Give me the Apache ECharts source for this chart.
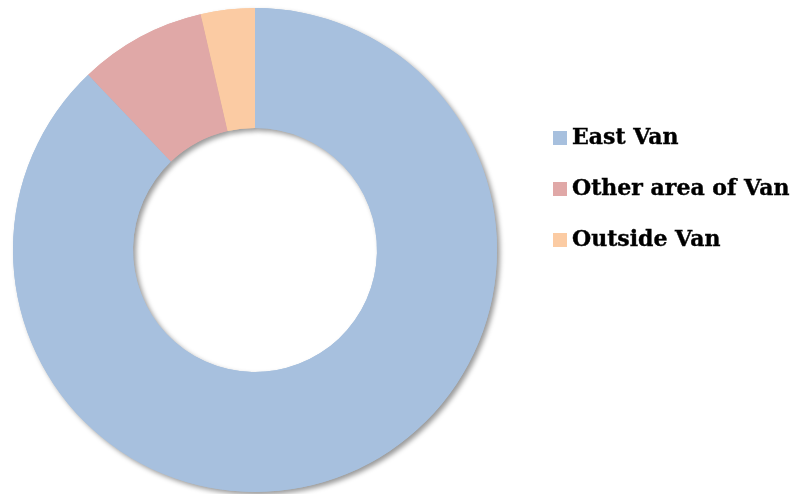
<!DOCTYPE html>
<html>
<head>
<meta charset="utf-8">
<script src="https://cdn.jsdelivr.net/npm/echarts@6/dist/echarts.min.js"></script>
<style>
  html, body { margin: 0; padding: 0; background: #fff; }
  #dom { width: 805px; height: 494px; }
</style>
</head>
<body>
<div id="dom"></div>
<script>
  // (share in %)
  var areas = ['East Van', 'Other area of Van', 'Outside Van']
  var shares = [87.9, 8.5, 3.6]
  var colors = ['#A7C0DE', '#E0A8A7', '#FBCBA3']

  var data = areas.map(function (name, i) {
    return { name: name, value: shares[i] }
  })

  var center = [255, 250]
  var radius = [122, 242]

  var option = {
    color: colors,
    animation: false,
    legend: {
      orient: 'vertical',
      left: 553,
      top: 126,
      padding: 0,
      itemWidth: 14,
      itemHeight: 14,
      itemGap: 27,
      icon: 'rect',
      data: areas,
      textStyle: {
        fontFamily: 'DejaVu Serif',
        fontWeight: 'bold',
        fontSize: 22,
        lineHeight: 24,
        color: '#000',
        textBorderColor: '#000',
        textBorderWidth: 0.4
      }
    },
    series: [
      {
        // ring underneath only to cast the soft drop shadow
        type: 'pie',
        silent: true,
        legendHoverLink: false,
        center: center,
        radius: radius,
        startAngle: 90,
        label: { show: false },
        labelLine: { show: false },
        itemStyle: {
          shadowBlur: 5,
          shadowOffsetX: 3,
          shadowOffsetY: 3,
          shadowColor: 'rgba(0,0,0,0.4)'
        },
        data: data
      },
      {
        name: 'Area',
        type: 'pie',
        center: center,
        radius: radius,
        startAngle: 90,
        label: { show: false },
        labelLine: { show: false },
        data: data
      }
    ]
  }

  var chart = echarts.init(document.getElementById('dom'))
  chart.setOption(option)
  window.addEventListener('resize', chart.resize)
</script>
</body>
</html>
